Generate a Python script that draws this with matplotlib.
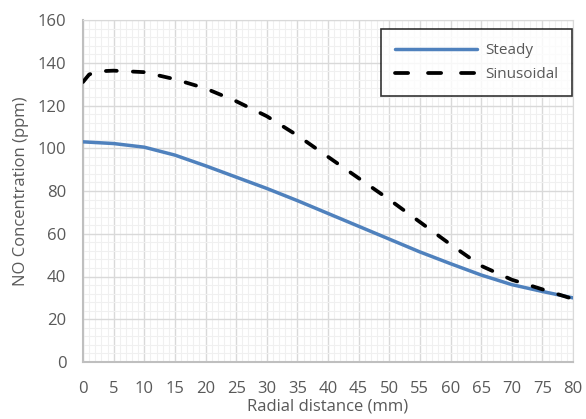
import matplotlib
matplotlib.use("Agg")
import matplotlib.pyplot as plt
from matplotlib.ticker import MultipleLocator

plt.rcParams['font.family'] = ['Open Sans', 'DejaVu Sans']

x_steady = [0, 5, 10, 15, 20, 25, 30, 35, 40, 45, 50, 55, 60, 65, 70, 75, 80]
y_steady = [103, 102.2, 100.5, 96.8, 91.8, 86.5, 81.2, 75.5, 69.5, 63.5, 57.5, 51.5, 46, 40.7, 36.2, 33, 30]

x_sin = [0, 1, 2.5, 5, 10, 15, 20, 25, 30, 35, 40, 45, 50, 55, 60, 65, 70, 75, 80]
y_sin = [131, 134.5, 136, 136.3, 135.6, 132.3, 128, 122, 115, 106, 96, 86, 76, 65.5, 55, 45, 38.5, 34, 29.5]

xticks = list(range(0, 81, 5))
yticks = list(range(0, 161, 20))

fig = plt.figure(figsize=(5.86, 4.19), dpi=100)
ax = fig.add_axes([83/586, 1-362/419, (573-83)/586, (362-20)/419])

ax.plot(x_steady, y_steady, color='#4f81bd', lw=2.5, label='Steady', solid_capstyle='round',
        solid_joinstyle='round', zorder=3)
ax.plot(x_sin, y_sin, color='black', lw=2.7, ls=(0, (2.9, 4.3)), dash_capstyle='round',
        label='Sinusoidal', zorder=3)

ax.set_xlim(0, 80)
ax.set_ylim(0, 160)
ax.set_xticks(xticks)
ax.set_yticks(yticks)
ax.xaxis.set_minor_locator(MultipleLocator(1))
ax.yaxis.set_minor_locator(MultipleLocator(4))
ax.grid(which='minor', color='#f0f0f0', lw=0.8, zorder=0)
ax.grid(which='major', color='#d9d9d9', lw=1.0, zorder=1)
ax.set_axisbelow(True)
ax.tick_params(which='both', length=0, labelsize=12, labelcolor='#595959')
ax.tick_params(axis='x', pad=14)
ax.tick_params(axis='y', pad=12)
for side in ['top', 'right', 'left', 'bottom']:
    ax.spines[side].set_color('#d9d9d9')
ax.spines['left'].set_color('#bfbfbf')
ax.spines['bottom'].set_color('#bfbfbf')
ax.spines['left'].set_linewidth(1.5)
ax.spines['bottom'].set_linewidth(1.5)

ax.set_xlabel('Radial distance (mm)', fontsize=12, color='#595959', labelpad=1)
ax.set_ylabel('NO Concentration (ppm)', fontsize=12, color='#595959', labelpad=6)

leg = ax.legend(loc='upper right', bbox_to_anchor=((572-83)/490, (362-29)/342), borderaxespad=0,
                fontsize=11, frameon=True, fancybox=False, edgecolor='black',
                handlelength=5.4, borderpad=0.9, labelspacing=0.55, handletextpad=0.5,
                handleheight=0.9)
leg.get_frame().set_linewidth(1.2)
leg.get_lines()[1].set_linestyle((0, (3.5, 5.3)))
leg.get_lines()[1].set_dash_capstyle('round')
for t in leg.get_texts():
    t.set_color('#595959')

fig.savefig('out.png', dpi=100)
